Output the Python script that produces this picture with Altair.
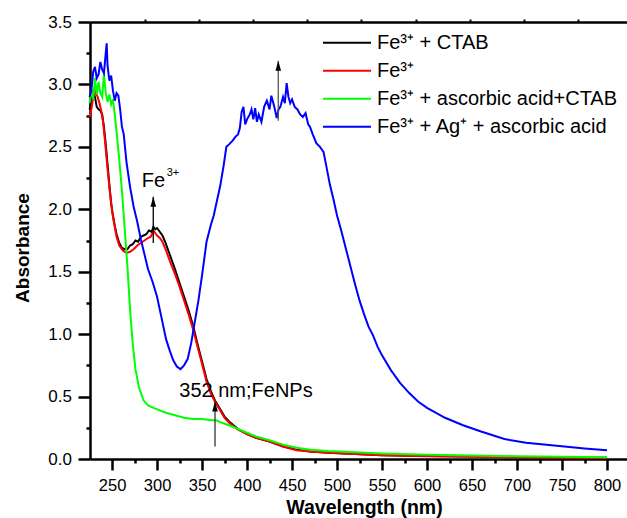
import altair as alt
import pandas as pd

FONT = "Liberation Sans"

# ---------------- data ----------------
series_names = ["Fe³⁺ + CTAB", "Fe³⁺", "Fe³⁺ + ascorbic acid+CTAB", "Fe³⁺ + Ag⁺ + ascorbic acid"]
series_colors = ["#000000", "#ff0000", "#00ff00", "#0000ff"]

black_wl = [225, 227, 229, 231, 233, 235, 237, 239, 241, 243, 245, 247, 249, 251, 253, 255, 258, 261, 264, 267,
            270, 273, 276, 279, 282, 285, 288, 291, 294, 296, 298, 300, 303, 306, 309, 312, 316, 320, 325, 330,
            335, 340, 345, 350, 355, 360, 365, 370, 375, 380, 390, 400, 410, 425, 440, 455, 470, 490, 520, 550,
            600, 650, 700, 750, 800]
black_abs = [2.80, 2.86, 2.95, 2.90, 2.82, 2.80, 2.79, 2.76, 2.66, 2.52, 2.36, 2.20, 2.05, 1.95, 1.87, 1.80, 1.73, 1.69, 1.68, 1.68,
             1.71, 1.72, 1.75, 1.74, 1.78, 1.79, 1.80, 1.83, 1.82, 1.86, 1.84, 1.85, 1.82, 1.79, 1.74, 1.68, 1.60, 1.52, 1.41, 1.30,
             1.19, 1.07, 0.92, 0.78, 0.64, 0.54, 0.46, 0.40, 0.34, 0.30, 0.24, 0.20, 0.17, 0.14, 0.10, 0.075, 0.06, 0.05, 0.04, 0.03,
             0.025, 0.02, 0.015, 0.012, 0.01]

red_wl = [225, 227, 229, 230, 232, 234, 236, 238, 240, 242, 244, 246, 248, 250, 252, 255, 258, 262, 266, 270,
          274, 278, 282, 286, 290, 293, 295, 297, 300, 303, 306, 310, 315, 320, 325, 330, 335, 340, 345, 350,
          355, 360, 365, 370, 375, 380, 390, 400, 410, 425, 440, 455, 470, 490, 520, 550, 600, 650, 700, 750, 800]
red_abs = [2.74, 2.80, 2.90, 2.97, 2.93, 2.90, 2.85, 2.79, 2.70, 2.56, 2.40, 2.25, 2.11, 1.99, 1.90, 1.78, 1.71, 1.67, 1.65, 1.66,
           1.68, 1.71, 1.73, 1.75, 1.77, 1.78, 1.81, 1.82, 1.79, 1.77, 1.74, 1.67, 1.57, 1.48, 1.38, 1.27, 1.16, 1.04, 0.90, 0.76,
           0.62, 0.52, 0.45, 0.39, 0.33, 0.29, 0.235, 0.20, 0.17, 0.14, 0.10, 0.07, 0.06, 0.05, 0.04, 0.03, 0.022, 0.018, 0.014, 0.011, 0.009]

green_wl = [225, 227, 229, 231, 233, 235, 237, 239, 241, 243, 245, 247, 249, 251, 253, 255, 258, 261, 264, 267,
            270, 273, 276, 280, 285, 290, 296, 303, 310, 320, 330, 340, 350, 360, 366, 372, 380, 390, 400, 410,
            425, 440, 455, 470, 490, 520, 550, 600, 650, 700, 750, 800]
green_abs = [2.85, 2.95, 2.88, 3.05, 2.92, 3.02, 2.93, 2.90, 3.08, 2.93, 2.86, 2.92, 2.84, 2.88, 2.76, 2.62, 2.40, 2.15, 1.85, 1.55,
             1.20, 0.92, 0.72, 0.57, 0.47, 0.43, 0.41, 0.39, 0.37, 0.35, 0.33, 0.32, 0.32, 0.31, 0.31, 0.29, 0.27, 0.24, 0.21, 0.18,
             0.15, 0.115, 0.09, 0.075, 0.065, 0.055, 0.045, 0.035, 0.028, 0.022, 0.018, 0.015]

blue_wl = [225, 227, 229, 231, 233, 235, 237, 239, 241, 243, 244, 245, 247, 249, 251, 253, 255, 257, 259, 261,
           263, 266, 270, 274, 278, 282, 286, 290, 295, 300, 305, 310, 314, 318, 322, 326, 330, 334, 338, 342,
           346, 350, 355, 360, 363, 366, 370, 374, 377, 380, 384, 387, 390, 392, 394, 396, 398, 400, 403, 405,
           407, 409, 411, 413, 416, 419, 422, 425, 427, 430, 433, 435, 437, 440, 442, 444, 446, 448, 450, 453,
           456, 459, 462, 465, 468, 470, 473, 477, 481, 485, 488, 492, 496, 500, 505, 510, 515, 520, 525, 530,
           535, 540, 545, 550, 560, 570, 580, 590, 600, 620, 640, 660, 686, 710, 747, 775, 800]
blue_abs = [2.90, 2.95, 3.10, 3.14, 3.05, 3.08, 3.18, 3.12, 3.09, 3.25, 3.33, 3.15, 3.03, 3.07, 2.95, 2.87, 2.93, 2.91, 2.80, 2.66,
            2.60, 2.38, 2.18, 2.02, 1.90, 1.76, 1.64, 1.52, 1.42, 1.30, 1.13, 0.96, 0.87, 0.79, 0.74, 0.72, 0.75, 0.80, 0.93, 1.10,
            1.27, 1.47, 1.74, 1.88, 1.95, 2.05, 2.18, 2.35, 2.50, 2.52, 2.55, 2.58, 2.60, 2.65, 2.78, 2.82, 2.68, 2.72, 2.76, 2.80,
            2.72, 2.81, 2.70, 2.76, 2.70, 2.82, 2.87, 2.80, 2.91, 2.83, 2.73, 2.80, 2.82, 2.90, 2.85, 3.01, 2.90, 2.85, 2.88, 2.82,
            2.80, 2.76, 2.74, 2.77, 2.68, 2.66, 2.60, 2.53, 2.50, 2.46, 2.35, 2.20, 2.08, 1.95, 1.82, 1.68, 1.54, 1.40, 1.27, 1.16,
            1.06, 0.99, 0.90, 0.83, 0.71, 0.61, 0.53, 0.46, 0.41, 0.33, 0.27, 0.22, 0.16, 0.13, 0.105, 0.085, 0.07]

# annotations
arrow_wl = [295.8, 434.7, 364.4]
arrow_from = [1.73, 2.71, 0.10]
arrow_to = [2.10, 3.19, 0.46]
arrow_line_color = ["#000000", "#555555", "#333333"]

label_text = ["Fe", "352 nm;FeNPs"]
label_wl = [283.0, 324.7]
label_abs = [2.18, 0.494]
sup_text = ["3+"]
sup_wl = [283.0]
sup_abs = [2.18]

# axis ticks
x_ticks = list(range(250, 801, 25))
y_ticks = [i * 0.25 for i in range(15)]
top_ticks = [286.7, 346.8, 406.9, 467.0, 527.1, 587.2, 647.3, 707.4, 767.5]

# ---------------- build tables ----------------
rows = []
for name, wl, ab in zip(series_names, [black_wl, red_wl, green_wl, blue_wl],
                        [black_abs, red_abs, green_abs, blue_abs]):
    assert len(wl) == len(ab), name
    for w, a in zip(wl, ab):
        rows.append({"series": name, "wl": w, "abs": a})
df = pd.DataFrame(rows)

arrows = pd.DataFrame({"wl": arrow_wl, "y0": arrow_from, "y1": arrow_to, "c": arrow_line_color})
labels = pd.DataFrame({"wl": label_wl, "abs": label_abs, "t": label_text})
sups = pd.DataFrame({"wl": sup_wl, "abs": sup_abs, "t": sup_text})

x_scale = alt.Scale(domain=[225.5, 822.2], nice=False, zero=False)
y_scale = alt.Scale(domain=[0, 3.5], nice=False, zero=False)
color_scale = alt.Scale(domain=series_names, range=series_colors)

x_axis = alt.Axis(
    values=x_ticks,
    labelExpr="datum.value % 50 === 0 ? datum.label : ''",
    tickSize={"condition": {"test": "datum.value % 50 === 0", "value": 11}, "value": 4},
    tickWidth=2.5, tickColor="black", domainWidth=2.5, domainColor="black",
    labelFontSize=16.5, labelColor="black", labelBaseline="alphabetic", labelPadding=20.5,
    labelOverlap=False, labelFlush=False, grid=False,
    title="Wavelength (nm)", titleFontSize=19.5, titleFontWeight="bold", titleColor="black",
    titleX=274, titleY=54.5, titleBaseline="alphabetic", titleAlign="center",
)
y_axis = alt.Axis(
    orient="left",
    values=y_ticks,
    labelExpr="abs(datum.value*2 - round(datum.value*2)) < 0.001 ? format(datum.value, '.1f') : ''",
    tickSize={"condition": {"test": "abs(datum.value*2 - round(datum.value*2)) < 0.001", "value": 12}, "value": 4},
    tickWidth=2.5, tickColor="black", domainWidth=2.5, domainColor="black",
    labelFontSize=17, labelColor="black", labelPadding=6.5,
    labelOverlap=False, labelFlush=False, grid=False,
    title="Absorbance", titleFontSize=19, titleFontWeight="bold", titleColor="black",
    titleAngle=270, titleX=-61.5, titleY=225.5, titleBaseline="alphabetic", titleAlign="center",
)
top_axis = alt.Axis(
    orient="top", values=top_ticks, labels=False, tickSize=3, tickWidth=2, tickColor="black",
    domainWidth=2.5, domainColor="black", grid=False, title=None,
)
legend = alt.Legend(
    title=None, orient="none", legendX=232, legendY=7.7, padding=0,
    symbolType="M-1,0L3,0", symbolSize=576, symbolStrokeWidth=2,
    labelOffset=29, labelFontSize=20, labelFont=FONT, labelColor="black", labelLimit=0,
    rowPadding=5,
)

line_layers = []
for name in series_names:
    line_layers.append(
        alt.Chart(df).transform_filter(alt.datum.series == name).mark_line(strokeWidth=2).encode(
            x=alt.X("wl:Q", scale=x_scale, axis=x_axis),
            y=alt.Y("abs:Q", scale=y_scale, axis=y_axis),
            color=alt.Color("series:N", scale=color_scale, legend=legend),
        )
    )

text_layer = alt.Chart(labels).mark_text(
    font=FONT, fontSize=20, align="left", baseline="alphabetic", color="black"
).encode(
    x=alt.X("wl:Q", scale=x_scale, axis=x_axis),
    y=alt.Y("abs:Q", scale=y_scale, axis=y_axis),
    text="t:N",
)
sup_layer = alt.Chart(sups).mark_text(
    font=FONT, fontSize=11, align="left", baseline="alphabetic", color="black", dx=25, dy=-11
).encode(
    x=alt.X("wl:Q", scale=x_scale, axis=x_axis),
    y=alt.Y("abs:Q", scale=y_scale, axis=y_axis),
    text="t:N",
)

main = alt.layer(*line_layers, text_layer, sup_layer)

arrow_rules = alt.Chart(arrows).mark_rule(strokeWidth=1.3).encode(
    x=alt.X("wl:Q", scale=x_scale, axis=top_axis),
    y=alt.Y("y0:Q", scale=y_scale, axis=y_axis),
    y2="y1:Q",
    color=alt.Color("c:N", scale=None, legend=None),
)
arrow_heads = alt.Chart(arrows).mark_point(
    shape="M0,0L0.28,1L-0.28,1Z", filled=True, size=400, color="black", opacity=1, strokeWidth=0
).encode(
    x=alt.X("wl:Q", scale=x_scale, axis=top_axis),
    y=alt.Y("y1:Q", scale=y_scale, axis=y_axis),
)
top = alt.layer(arrow_rules, arrow_heads)

chart = alt.layer(main, top).resolve_axis(x="independent").properties(
    width=537, height=437,
    padding={"left": 90, "top": 22, "right": 0, "bottom": 59},
    autosize=alt.AutoSizeParams(type="none"),
).configure_view(stroke=None).configure_axis(
    labelFont=FONT, titleFont=FONT
).configure(background="white")

chart.save("out.html", embed_options={"renderer": "svg", "actions": False})
